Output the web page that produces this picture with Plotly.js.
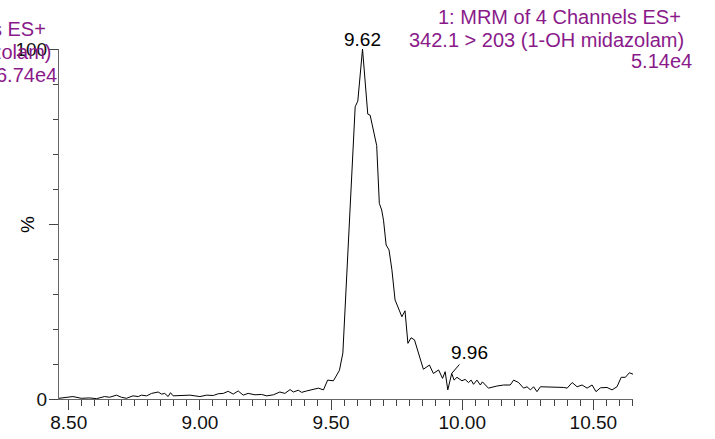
<!DOCTYPE html>
<html>
<head>
<meta charset="utf-8">
<script src="https://cdn.plot.ly/plotly-3.0.1.min.js"></script>
<style>
  html, body { margin: 0; padding: 0; background: #fff; }
  #chart { width: 715px; height: 439px; }
</style>
</head>
<body>
<div id="chart"></div>
<script>
// MRM chromatogram, channel 1: 342.1 > 203 (1-OH midazolam)
const retentionTime = [
  8.463, 8.491, 8.516, 8.548, 8.580, 8.606, 8.637, 8.656, 8.682, 8.701,
  8.720, 8.745, 8.765, 8.777, 8.797, 8.816, 8.841, 8.854, 8.866, 8.879,
  8.888, 8.898, 8.930, 8.962, 9.000, 9.026, 9.051, 9.070, 9.089, 9.108,
  9.127, 9.146, 9.165, 9.184, 9.210, 9.235, 9.255, 9.280, 9.305, 9.324,
  9.344, 9.356, 9.375, 9.388, 9.407, 9.426, 9.452, 9.471, 9.487, 9.509,
  9.532, 9.545, 9.561, 9.576, 9.592, 9.602, 9.620, 9.640, 9.649, 9.674,
  9.684, 9.693, 9.700, 9.710, 9.721, 9.732, 9.744, 9.770, 9.782, 9.793,
  9.805, 9.818, 9.836, 9.852, 9.875, 9.890, 9.910, 9.925, 9.935, 9.945,
  9.960, 9.969, 9.980, 9.999, 10.011, 10.024, 10.034, 10.043, 10.056, 10.069,
  10.077, 10.100, 10.132, 10.158, 10.183, 10.196, 10.215, 10.234, 10.247, 10.260,
  10.272, 10.285, 10.298, 10.317, 10.342, 10.387, 10.400, 10.419, 10.438, 10.457,
  10.476, 10.495, 10.510, 10.527, 10.552, 10.571, 10.590, 10.606, 10.622, 10.637,
  10.651
];
const relativeIntensity = [
  0.2, 0.4, 0.7, 0.2, 0.3, 0.1, 0.7, 0.5, 1.1, 0.5,
  0.2, 0.9, 0.7, 1.1, 0.9, 1.6, 2.0, 1.4, 1.6, 0.7,
  1.8, 0.9, 0.9, 1.1, 0.7, 1.1, 1.0, 1.5, 1.6, 2.2,
  1.4, 2.3, 1.1, 1.6, 1.2, 1.3, 0.9, 1.2, 2.0, 1.6,
  2.7, 2.0, 2.5, 1.9, 2.3, 2.6, 3.1, 2.6, 5.4, 5.2,
  8.2, 13.1, 36.0, 58.9, 83.5, 85.1, 100, 81.4, 81.1, 72.4,
  55.9, 54.0, 51.1, 44.0, 42.6, 36.9, 28.3, 23.5, 25.2, 15.9,
  17.5, 16.9, 12.6, 8.5, 9.7, 7.3, 8.3, 5.9, 7.8, 2.6,
  7.3, 5.4, 6.2, 5.2, 5.6, 4.7, 5.4, 4.2, 5.4, 4.0,
  4.9, 3.1, 3.7, 4.0, 4.0, 5.4, 4.7, 3.1, 3.5, 2.6,
  3.5, 2.1, 3.5, 3.5, 3.3, 3.3, 3.1, 4.7, 3.5, 4.0,
  3.1, 4.0, 2.1, 3.2, 3.3, 2.6, 3.5, 6.2, 6.2, 7.5,
  7.1
];

// Labelled peaks (retention times)
const labelledPeaks = [9.62, 9.96];

// Axis ticks
const yTickValues = [0, 50, 100];
const yTickLabels = ['0', '', '100'];
const yMinorTicks = [10, 20, 30, 40, 60, 70, 80, 90];

// Channel headers
const channelHeader = ['1: MRM of 4 Channels ES+', '342.1 > 203 (1-OH midazolam)', '5.14e4'];
const neighbourHeader = ['2: MRM of 4 Channels ES+', '326.1 > 291.1 (midazolam)', '6.74e4'];

const W = 715, H = 439;
const M = { l: 59, r: 82, t: 49, b: 40 };
const plotW = W - M.l - M.r, plotH = H - M.t - M.b;
const px = x => (x - M.l) / plotW;
const py = y => (H - M.b - y) / plotH;

const FONT = 'Liberation Sans, Arial, Helvetica, sans-serif';
const PURPLE = '#8a1a8a';

function nearestIndex(t) {
  let best = 0;
  retentionTime.forEach((v, i) => {
    if (Math.abs(v - t) < Math.abs(retentionTime[best] - t)) best = i;
  });
  return best;
}

const annotations = [];

// Peak apex label
{
  const i = nearestIndex(labelledPeaks[0]);
  annotations.push({
    x: retentionTime[i], y: relativeIntensity[i], xref: 'x', yref: 'y',
    text: retentionTime[i].toFixed(2), showarrow: false,
    yanchor: 'bottom', yshift: -3,
    font: { family: FONT, size: 19, color: '#000' }
  });
}
// Minor peak label with leader line
{
  const i = nearestIndex(labelledPeaks[1]);
  annotations.push({
    x: retentionTime[i], y: relativeIntensity[i], xref: 'x', yref: 'y',
    text: retentionTime[i].toFixed(2), showarrow: true,
    arrowhead: 0, arrowwidth: 1, arrowcolor: '#000',
    ax: 18, ay: -21, standoff: 0,
    font: { family: FONT, size: 19, color: '#000' }
  });
}

// Channel header (right-aligned lines)
const headerRight = [683, 686, 694];
const headerY = [17, 40, 61];
channelHeader.forEach((line, k) => {
  annotations.push({
    xref: 'paper', yref: 'paper', x: px(headerRight[k]), y: py(headerY[k]),
    xanchor: 'right', yanchor: 'middle', showarrow: false, text: line,
    font: { family: FONT, size: 20, color: PURPLE }
  });
});

// Neighbouring panel header, running off the left edge
const neighbourRight = [48, 53, 59];
const neighbourY = [29, 52, 75];
neighbourHeader.forEach((line, k) => {
  annotations.push({
    xref: 'paper', yref: 'paper', x: px(neighbourRight[k]), y: py(neighbourY[k]),
    xanchor: 'right', yanchor: 'middle', showarrow: false, text: line,
    font: { family: FONT, size: 20, color: PURPLE }
  });
});

// Y axis label
annotations.push({
  xref: 'paper', yref: 'paper', x: px(27), y: py(225),
  xanchor: 'center', yanchor: 'middle', showarrow: false, text: '%', textangle: -90,
  font: { family: FONT, size: 19, color: '#000' }
});

const trace = {
  type: 'scatter', mode: 'lines',
  x: retentionTime, y: relativeIntensity,
  line: { color: '#000', width: 1 },
  hoverinfo: 'skip', cliponaxis: false
};

const layout = {
  width: W, height: H,
  margin: M,
  paper_bgcolor: '#fff', plot_bgcolor: '#fff',
  showlegend: false,
  font: { family: FONT, size: 19, color: '#000' },
  xaxis: {
    range: [retentionTime[0], retentionTime[retentionTime.length - 1]],
    showline: true, linecolor: '#666', linewidth: 1,
    showgrid: false, zeroline: false,
    tickmode: 'linear', tick0: 8.5, dtick: 0.5, tickformat: '.2f',
    ticks: 'outside', ticklen: 10, tickcolor: '#444', tickwidth: 1,
    ticklabelstandoff: -4,
    tickfont: { family: FONT, size: 19, color: '#111' },
    minor: { tickmode: 'linear', tick0: 8.5, dtick: 0.05, ticks: 'outside', ticklen: 6, tickcolor: '#444', showgrid: false }
  },
  yaxis: {
    range: [0, 100],
    showline: true, linecolor: '#666', linewidth: 1,
    showgrid: false, zeroline: false,
    tickmode: 'array', tickvals: yTickValues, ticktext: yTickLabels,
    ticks: 'outside', ticklen: 9, tickcolor: '#444', tickwidth: 1,
    ticklabelstandoff: -2,
    tickfont: { family: FONT, size: 19, color: '#111' },
    minor: { tickmode: 'array', tickvals: yMinorTicks, ticks: 'outside', ticklen: 5, tickcolor: '#444', showgrid: false }
  },
  annotations: annotations
};

Plotly.newPlot('chart', [trace], layout, { staticPlot: true, displayModeBar: false });
</script>
</body>
</html>
